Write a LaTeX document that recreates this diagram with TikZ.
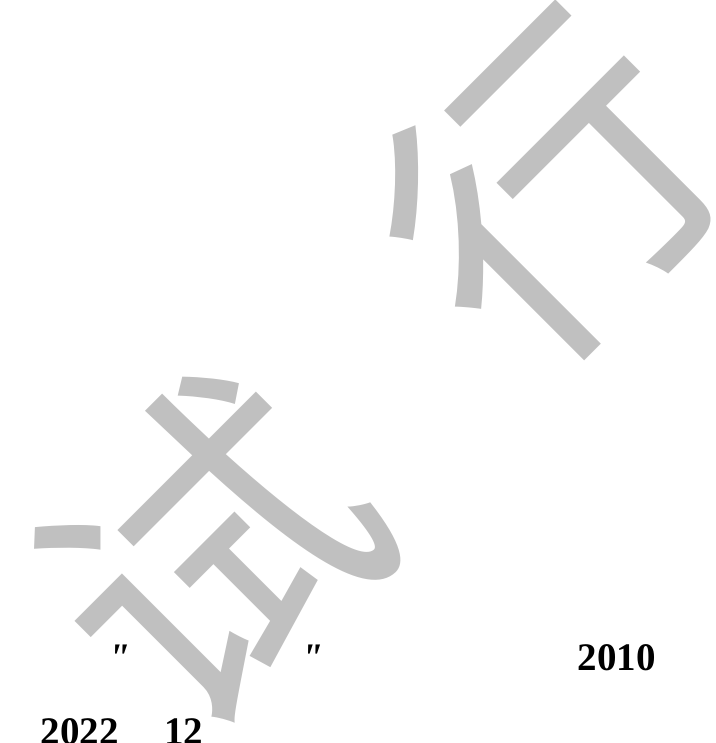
\documentclass[tikz,border=0pt]{standalone}
\usepackage{fontspec}
\setmainfont{Liberation Serif}
\newfontfamily\qfont{Liberation Serif}[Ligatures=TeXOff]
\newfontfamily\cjk{Noto Sans CJK SC}
\usetikzlibrary{positioning}
\definecolor{wmgray}{RGB}{192,192,192}

\begin{document}
\begin{tikzpicture}[x=0.41pt,y=-0.41pt,
  markchar/.style={font=\cjk\fontsize{131}{131}\selectfont, text=wmgray, inner sep=0, rotate=45, transform shape},
  yr/.style={font=\bfseries\fontsize{16}{16}\selectfont, inner sep=0, anchor=base west},
  qt/.style={font=\qfont\bfseries\itshape\fontsize{16}{16}\selectfont, inner sep=0, anchor=base west}]
\useasboundingbox (0,0) rectangle (715,743);
\node[markchar] (s) at (210,553) {试};
\node[markchar] (x) at (550,187) {行};
\node[qt] (q1) at (108,670) {"};
\node[qt] (q2) at (301,670) {"};
\node[yr] (y1) at (577,670) {2010};
\node[yr] (y2) at (40,744) {2022};
\node[yr, right = 18.4pt of y2.base east, anchor=base west] (m) {12};
\end{tikzpicture}
\end{document}
